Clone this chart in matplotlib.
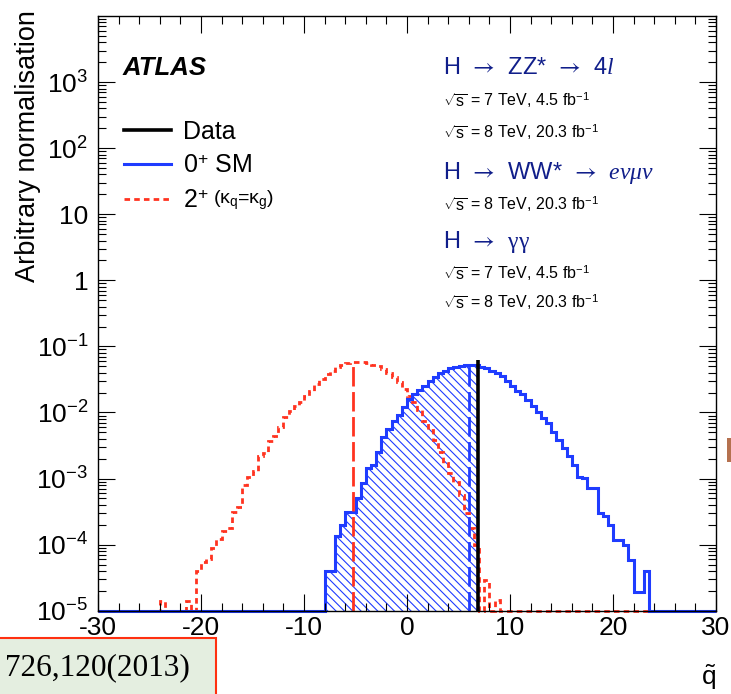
import numpy as np
import matplotlib
matplotlib.use('Agg')
import matplotlib.pyplot as plt
from matplotlib.patches import Rectangle
from matplotlib.lines import Line2D
from matplotlib.ticker import LogLocator, MultipleLocator, NullFormatter

# data _______________________________________________________________________________________________________________
q_lo, q_hi, q_bin = -30.0, 30.0, 0.5

# 0+ SM pseudo-experiments, bins of 0.5 starting at q = -8
sm_first_bin = -8.0
sm_values = [4.0e-5, 4.0e-5, 1.35e-4, 1.95e-4, 3.1e-4, 3.1e-4, 5.0e-4, 8.7e-4,
             1.45e-3, 1.6e-3, 2.5e-3, 4.2e-3, 5.6e-3, 7.5e-3, 9.3e-3, 1.2e-2,
             1.62e-2, 1.9e-2, 2.2e-2, 2.5e-2, 2.95e-2, 3.5e-2, 3.9e-2, 4.3e-2,
             4.7e-2, 4.9e-2, 5.1e-2, 5.2e-2, 5.2e-2, 5.15e-2, 4.9e-2, 4.7e-2,
             4.3e-2, 3.9e-2, 3.6e-2, 3.0e-2, 2.53e-2, 2.13e-2, 1.9e-2, 1.55e-2,
             1.26e-2, 1.02e-2, 8.3e-3, 6.9e-3, 5.0e-3, 3.85e-3, 2.95e-3, 2.2e-3,
             1.63e-3, 1.07e-3, 1.02e-3, 7.2e-4, 7.2e-4, 3.05e-4, 2.7e-4, 1.95e-4,
             1.17e-4, 1.17e-4, 9.8e-5, 5.8e-5, 1.93e-5, 1.93e-5, 4.0e-5]

# 2+ (kq = kg) pseudo-experiments, bins of 0.5 starting at q = -24
spin2_first_bin = -24.0
spin2_values = [1.4e-5, 0, 0, 0, 0, 1.4e-5, 0, 4.0e-5,
                5.5e-5, 6.0e-5, 9.0e-5, 1.2e-4, 1.6e-4, 1.8e-4, 3.1e-4, 3.7e-4,
                8.0e-4, 1.05e-3, 1.3e-3, 2.2e-3, 2.4e-3, 3.7e-3, 4.4e-3, 6.0e-3,
                8.5e-3, 1.05e-2, 1.26e-2, 1.45e-2, 1.8e-2, 2.15e-2, 2.7e-2, 3.2e-2,
                3.8e-2, 4.3e-2, 4.8e-2, 5.25e-2, 5.6e-2, 5.9e-2, 5.9e-2, 5.8e-2,
                5.6e-2, 5.3e-2, 5.0e-2, 4.6e-2, 4.0e-2, 3.5e-2, 2.9e-2, 2.3e-2,
                1.8e-2, 1.42e-2, 1.1e-2, 7.5e-3, 5.5e-3, 3.8e-3, 2.5e-3, 1.7e-3,
                1.2e-3, 9.0e-4, 5.6e-4, 3.0e-4, 1.8e-4, 1.0e-4, 0, 2.9e-5,
                0, 1.45e-5]

q_obs = 6.9          # observed value (Data)
obs_top = 6.2e-2
sm_median = 6.0
spin2_median = -5.2

x_ticks = [-30, -20, -10, 0, 10, 20, 30]
y_ticks = [1e-5, 1e-4, 1e-3, 1e-2, 1e-1, 1, 10, 1e2, 1e3]
y_labels = [r'$\mathdefault{10^{-5}}$', r'$\mathdefault{10^{-4}}$', r'$\mathdefault{10^{-3}}$',
            r'$\mathdefault{10^{-2}}$', r'$\mathdefault{10^{-1}}$', '1', '10',
            r'$\mathdefault{10^{2}}$', r'$\mathdefault{10^{3}}$']

legend_labels = ['Data', r'0$^{+}$ SM', r'2$^{+}$']

# style ______________________________________________________________________________________________________________
plt.rcParams['font.family'] = ['Liberation Sans', 'DejaVu Sans']
plt.rcParams['mathtext.fontset'] = 'custom'
plt.rcParams['mathtext.rm'] = 'Liberation Sans'
plt.rcParams['mathtext.it'] = 'Liberation Serif:italic'
plt.rcParams['mathtext.sf'] = 'Liberation Serif'
plt.rcParams['mathtext.cal'] = 'STIXGeneral'
plt.rcParams['mathtext.bf'] = 'Liberation Sans:bold'
plt.rcParams['axes.unicode_minus'] = False
plt.rcParams['hatch.linewidth'] = 0.8

blue = '#1f3cff'
red = '#ff3320'
navy = '#101e8a'
ymin, ymax = 1e-5, 1e4
arrow = r' $\mathcal{\,\rightarrow\,}$ '

# histograms _________________________________________________________________________________________________________
edges = np.arange(q_lo, q_hi + q_bin / 2, q_bin)
nbins = len(edges) - 1


def full_hist(first, vals):
    h = np.zeros(nbins)
    i0 = int(round((first - q_lo) / q_bin))
    h[i0:i0 + len(vals)] = vals
    return h


sm_h = np.clip(full_hist(sm_first_bin, sm_values), ymin, None)
s2_h = np.clip(full_hist(spin2_first_bin, spin2_values), ymin, None)

# plot _______________________________________________________________________________________________________________
fig = plt.figure(figsize=(7.31, 6.94), dpi=100)
ax = fig.add_axes([0.1341, 0.1200, 0.8454, 0.8569])
ax.set_yscale('log')

# hatched area of the SM distribution below the observed value
keep = edges < q_obs
fill_edges = np.append(edges[keep], q_obs)
fill_vals = sm_h[:keep.sum()]
ax.stairs(fill_vals, fill_edges, baseline=ymin, fill=True, facecolor='none',
          edgecolor=blue, hatch='\\\\\\\\', linewidth=0)

ax.stairs(s2_h, edges, baseline=ymin, color=red, lw=2.0, ls=(0, (2.0, 1.5)), clip_on=False)
ax.stairs(sm_h, edges, baseline=ymin, color=blue, lw=2.2, clip_on=False)

# medians
s2_med_h = s2_h[int((spin2_median - q_lo) // q_bin)]
sm_med_h = sm_h[int((sm_median - q_lo) // q_bin)]
ax.vlines(spin2_median, ymin, s2_med_h, color=red, lw=2.0, linestyles=[(0, (7, 2))])
ax.vlines(sm_median, ymin, sm_med_h, color=blue, lw=2.0, linestyles=[(0, (7, 2))])

# data
ax.vlines(q_obs, ymin, obs_top, color='k', lw=2.6)

ax.set_xlim(q_lo, q_hi)
ax.set_ylim(ymin, ymax)
ax.set_xticks(x_ticks, [str(t) for t in x_ticks])
ax.xaxis.set_minor_locator(MultipleLocator(2))
ax.set_yticks(y_ticks, y_labels)
ax.yaxis.set_minor_locator(LogLocator(base=10, subs=np.arange(2, 10), numticks=100))
ax.yaxis.set_minor_formatter(NullFormatter())
ax.tick_params(which='both', direction='in', top=True, right=True, width=0.8, labelsize=19)
ax.tick_params(which='major', length=12.5)
ax.tick_params(which='minor', length=6)
ax.tick_params(axis='x', pad=4)
ax.tick_params(axis='y', pad=7)
for s in ax.spines.values():
    s.set_linewidth(1.0)

# legend
handles = [Line2D([], [], color='k', lw=2.6),
           Line2D([], [], color=blue, lw=2.2),
           Line2D([], [], color=red, lw=2.0, ls=(0, (2.0, 1.5)))]
ax.legend(handles, legend_labels, loc='upper left', bbox_to_anchor=(0.042, 0.826), frameon=False,
          fontsize=18, handlelength=1.9, handletextpad=0.45, labelspacing=0.42,
          borderpad=0, borderaxespad=0)
ax.text(0.186, 0.690, r'($\mathrm{\kappa_{q}}$=$\mathrm{\kappa_{g}}$)', transform=ax.transAxes,
        fontsize=14, va='center', ha='left')

ax.text(0.040, 0.912, 'ATLAS', transform=ax.transAxes, fontsize=18.5, fontweight='bold',
        fontstyle='italic', va='center', ha='left')

# channel labels
tx = 0.558
ax.text(tx, 0.912, 'H' + arrow + 'ZZ*' + arrow + '4$l$', transform=ax.transAxes,
        fontsize=17, color=navy, va='center')
ax.text(tx, 0.8586, r'$\sqrt{\mathrm{s}}$ = 7 TeV, 4.5 fb$^{-1}$', transform=ax.transAxes,
        fontsize=11.5, va='center')
ax.text(tx, 0.805, r'$\sqrt{\mathrm{s}}$ = 8 TeV, 20.3 fb$^{-1}$', transform=ax.transAxes,
        fontsize=11.5, va='center')
ax.text(tx, 0.736, 'H' + arrow + 'WW*' + arrow + r'$e\nu\mu\nu$', transform=ax.transAxes,
        fontsize=17, color=navy, va='center')
ax.text(tx, 0.684, r'$\sqrt{\mathrm{s}}$ = 8 TeV, 20.3 fb$^{-1}$', transform=ax.transAxes,
        fontsize=11.5, va='center')
ax.text(tx, 0.620, 'H' + arrow + r'$\mathsf{\gamma\gamma}$', transform=ax.transAxes,
        fontsize=17, color=navy, va='center')
ax.text(tx, 0.568, r'$\sqrt{\mathrm{s}}$ = 7 TeV, 4.5 fb$^{-1}$', transform=ax.transAxes,
        fontsize=11.5, va='center')
ax.text(tx, 0.519, r'$\sqrt{\mathrm{s}}$ = 8 TeV, 20.3 fb$^{-1}$', transform=ax.transAxes,
        fontsize=11.5, va='center')

# axis titles
fig.text(0.038, 1 - 10 / 694, 'Arbitrary normalisation', rotation=90, ha='center', va='top', fontsize=19.5)
fig.text(0.981, 1 - 677 / 694, r'$\tilde{\mathrm{q}}$', ha='right', va='center', fontsize=19)

# reference box and slide remnant
fig.patches.append(Rectangle((-0.01, -0.01), 216 / 731 + 0.01, (694 - 638) / 694 + 0.01,
                             transform=fig.transFigure, facecolor='#e4eee0', edgecolor='#ff3010',
                             lw=1.5, zorder=5))
fig.text(5 / 731, 1 - 668 / 694, '726,120(2013)', family='Liberation Serif', fontsize=22.5,
         ha='left', va='center', zorder=6)
fig.patches.append(Rectangle((727 / 731, 1 - 462 / 694), 4 / 731, 24 / 694,
                             transform=fig.transFigure, facecolor='#b5714f', edgecolor='none'))

fig.savefig('out.png', dpi=100)
